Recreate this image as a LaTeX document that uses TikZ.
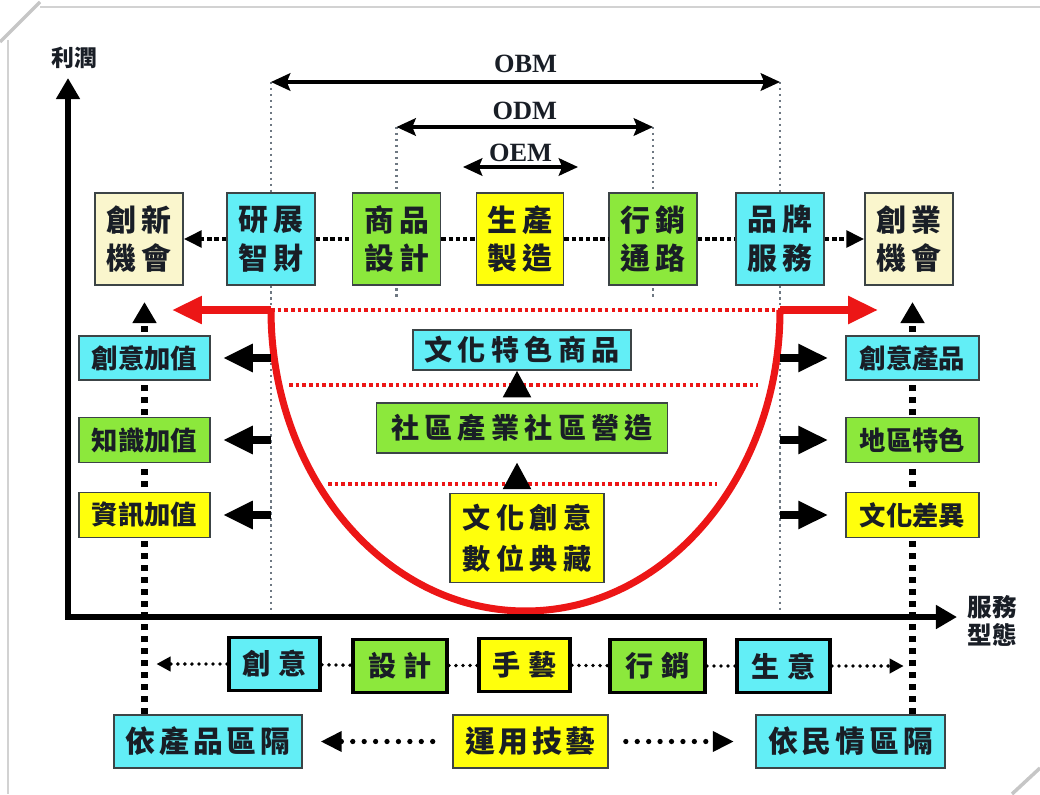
\documentclass[tikz,border=0pt]{standalone}
\usepackage{fontspec}
\setmainfont{Liberation Serif}
\newfontfamily\cjk{Noto Sans CJK TC}
\usetikzlibrary{arrows.meta,backgrounds}
\definecolor{cyanB}{RGB}{98,238,246}
\definecolor{greenB}{RGB}{140,232,60}
\definecolor{yellowB}{RGB}{255,255,12}
\definecolor{creamB}{RGB}{250,246,205}
\definecolor{redB}{RGB}{236,22,22}
\definecolor{boxline}{RGB}{60,68,70}
\definecolor{txt}{RGB}{25,30,38}
\definecolor{vgray}{RGB}{110,120,130}
\newcommand{\gp}{\hspace{3pt}}
\begin{document}
\begin{tikzpicture}[x=0.02cm, y=-0.02cm,
  sz/.style 2 args={minimum width={#1*0.02cm}, minimum height={#2*0.02cm}},
  box/.style={draw=boxline, line width=1.1pt, inner sep=0pt, align=center, text=txt},
  bbox/.style={box, draw=black, line width=2.2pt},
  topf/.style={font=\cjk\bfseries\fontsize{17pt}{22pt}\selectfont},
  midf/.style={font=\cjk\bfseries\fontsize{16pt}{23pt}\selectfont},
  sidef/.style={font=\cjk\bfseries\fontsize{15pt}{18pt}\selectfont},
  lowf/.style={font=\cjk\bfseries\fontsize{17pt}{20pt}\selectfont},
  modarrow/.style={line width=1.8pt, {Stealth[length=11pt,width=10pt,inset=2pt]}-{Stealth[length=11pt,width=10pt,inset=2pt]}},
  vdot/.style={vgray, line width=1.4pt, dash pattern=on 1.4pt off 2pt},
  rowdot/.style={black, line width=1.8pt, dash pattern=on 2.5pt off 1.6pt},
  rowtip/.style={-{Triangle[length=10pt,width=9.5pt]}},
  reddot/.style={redB, line width=2pt, dash pattern=on 2pt off 1.8pt},
  redarrow/.style={redB, line width=4pt, -{Triangle[length=17pt,width=15pt]}},
  bigarrow/.style={black, line width=5pt, -{Triangle[length=17pt,width=15pt]}},
  thickdot/.style={black, line width=3.6pt, dash pattern=on 3.4pt off 3.4pt, -{Triangle[length=12pt,width=13pt]}},
  lowdot/.style={black, line width=2.2pt, dash pattern=on 0pt off 4pt, line cap=round},
  lowdotB/.style={black, line width=3pt, dash pattern=on 0pt off 6.5pt, line cap=round},
  uptri/.style={black, line width=1pt, -{Triangle[length=15pt,width=16pt]}}
]
\useasboundingbox (0,0) rectangle (1040,794);
% page frame decoration
\draw[gray!35, line width=1pt] (40,7) -- (1040,7);
\draw[gray!35, line width=1pt] (8,40) -- (8,794);
\draw[gray!45, line width=2pt] (0,42) -- (40,2);
\draw[gray!45, line width=2pt] (1012,794) -- (1040,768);

% top row
\node[box, fill=creamB, topf, sz={88}{92}] (inn) at (139,239) {創\gp 新\\機\gp 會};
\node[box, fill=cyanB, topf, sz={88}{92}] (rd) at (271,239) {研\gp 展\\智\gp 財};
\node[box, fill=greenB, topf, sz={88}{92}] (pd) at (396.5,239) {商\gp 品\\設\gp 計};
\node[box, fill=yellowB, topf, sz={87}{92}] (mf) at (520,239) {生\gp 產\\製\gp 造};
\node[box, fill=greenB, topf, sz={88}{92}] (mk) at (653,239) {行\gp 銷\\通\gp 路};
\node[box, fill=cyanB, topf, sz={88}{92}] (br) at (780,239) {品\gp 牌\\服\gp 務};
\node[box, fill=creamB, topf, sz={88}{92}] (biz) at (909,239) {創\gp 業\\機\gp 會};

% center column
\node[box, fill=cyanB, midf, sz={218}{40}] (cp) at (522,350) {文\gp 化\gp 特\gp 色\gp 商\gp 品};
\node[box, fill=greenB, midf, sz={291}{50}] (ci) at (522,428) {社\gp 區\gp 產\gp 業\gp 社\gp 區\gp 營\gp 造};
\node[box, fill=yellowB, midf, sz={154}{89}] (dc) at (527,538) {文\gp 化\gp 創\gp 意\\數\gp 位\gp 典\gp 藏};

% side columns
\node[box, fill=cyanB, sidef, sz={131}{44}] (lv1) at (144.5,358) {創意加值};
\node[box, fill=greenB, sidef, sz={131}{45}] (lv2) at (144.5,440) {知識加值};
\node[box, fill=yellowB, sidef, sz={131}{45}] (lv3) at (144.5,515) {資訊加值};
\node[box, fill=cyanB, sidef, sz={133}{44}] (rv1) at (912.5,358) {創意產品};
\node[box, fill=greenB, sidef, sz={133}{45}] (rv2) at (912.5,440) {地區特色};
\node[box, fill=yellowB, sidef, sz={133}{45}] (rv3) at (912.5,515) {文化差異};

% bottom row
\node[bbox, fill=cyanB, midf, sz={91}{53}] (b1) at (274.5,664) {創\hspace{4pt}意};
\node[bbox, fill=greenB, midf, sz={94}{53}] (b2) at (400,666) {設\hspace{4pt}計};
\node[bbox, fill=yellowB, midf, sz={91}{53}] (b3) at (524.5,665) {手\hspace{4pt}藝};
\node[bbox, fill=greenB, midf, sz={95}{53}] (b4) at (657.5,666) {行\hspace{4pt}銷};
\node[bbox, fill=cyanB, midf, sz={93}{53}] (b5) at (783.5,666) {生\hspace{4pt}意};

% last row
\node[box, fill=cyanB, lowf, sz={188}{53}] (pl) at (208,741.5) {依\hspace{2.2pt}產\hspace{2.2pt}品\hspace{2.2pt}區\hspace{2.2pt}隔};
\node[box, fill=yellowB, lowf, sz={155}{53}] (ut) at (530.5,741.5) {運\hspace{2pt}用\hspace{2pt}技\hspace{2pt}藝};
\node[box, fill=cyanB, lowf, sz={189}{53}] (pm) at (850.5,741.5) {依\hspace{2.2pt}民\hspace{2.2pt}情\hspace{2.2pt}區\hspace{2.2pt}隔};

% axis labels
\node[font=\cjk\bfseries\fontsize{13pt}{15pt}\selectfont, text=txt] (profit) at (74,58) {利潤};
\node[font=\cjk\bfseries\fontsize{14pt}{16pt}\selectfont, text=txt, align=center] (svc) at (992,621) {服務\\型態};

% coordinates
\coordinate (obmL) at (rd.center |- 0,82);
\coordinate (obmR) at (br.center |- 0,82);
\coordinate (odmL) at (pd.center |- 0,127);
\coordinate (odmR) at (mk.center |- 0,127);
\coordinate (oemL) at (463,167);
\coordinate (oemR) at (578,167);
\coordinate (rdB) at (rd.center |- 0,617);
\coordinate (brB) at (br.center |- 0,617);
\coordinate (pdB) at (pd.center |- 0,297);
\coordinate (mkB) at (mk.center |- 0,297);
\coordinate (rL) at (rd.center |- 0,310);
\coordinate (rR) at (br.center |- 0,310);
\coordinate (redLtip) at (172,310);
\coordinate (redRtip) at (878,310);
\coordinate (uBot) at (525.5,611);
\coordinate (d2L) at (289,385);
\coordinate (d2R) at (758,385);
\coordinate (d3L) at (328,484);
\coordinate (d3R) at (717,484);
\coordinate (ytip) at (68,78);
\coordinate (xtip) at (957,617);
\coordinate (lvtop) at (144.5,302);
\coordinate (rvtop) at (912.5,302);

\begin{pgfonlayer}{background}
  % gray dotted guide lines
  \draw[vdot] (obmL) -- (rdB);
  \draw[vdot] (obmR) -- (brB);
  \draw[vdot] (odmL) -- (pdB);
  \draw[vdot] (odmR) -- (mkB);
  % thick dotted side lines
  \draw[thickdot] (lv1.center |- pl.north) -- (lvtop);
  \draw[thickdot] (rv1.center |- pm.north) -- (rvtop);
  % red dotted lines
  \draw[reddot] (rL) -- (rR);
  \draw[reddot] (d2L) -- (d2R);
  \draw[reddot] (d3L) -- (d3R);
\end{pgfonlayer}

% model arrows
\draw[modarrow] (obmL) -- (obmR) node[midway, above=1pt, font=\bfseries\fontsize{15pt}{17pt}\selectfont, text=txt] (obm) {OBM};
\draw[modarrow] (odmL) -- (odmR) node[midway, above=0pt, font=\bfseries\fontsize{15pt}{17pt}\selectfont, text=txt] (odm) {ODM};
\draw[modarrow] (oemL) -- (oemR) node[midway, above=-1.5pt, font=\bfseries\fontsize{15pt}{17pt}\selectfont, text=txt] (oem) {OEM};

% top row dotted chain
\draw[rowdot, rowtip] (rd) -- (inn);
\draw[rowdot] (rd) -- (pd);
\draw[rowdot] (pd) -- (mf);
\draw[rowdot] (mf) -- (mk);
\draw[rowdot] (mk) -- (br);
\draw[rowdot, rowtip] (br) -- (biz);

% red U curve and arrows
\draw[redB, line width=4pt] (rL) .. controls (271,476) and (385,611) .. (uBot)
   .. controls (666,611) and (780,476) .. (rR);
\draw[redarrow] (rL) -- (redLtip);
\draw[redarrow] (rR) -- (redRtip);

% center triangles
\draw[uptri, shorten <=6pt] (ci.north -| 517,0) -- (cp.south -| 517,0);
\draw[uptri, shorten <=4pt, shorten >=5pt] (dc.north -| 517,0) -- (ci.south -| 517,0);

% big side arrows
\draw[bigarrow, shorten >=6.8pt] (rd.center |- lv1.east) -- (lv1.east);
\draw[bigarrow, shorten >=6.8pt] (rd.center |- lv2.east) -- (lv2.east);
\draw[bigarrow, shorten >=6.8pt] (rd.center |- lv3.east) -- (lv3.east);
\draw[bigarrow, shorten >=9.6pt] (br.center |- rv1.west) -- (rv1.west);
\draw[bigarrow, shorten >=9.6pt] (br.center |- rv2.west) -- (rv2.west);
\draw[bigarrow, shorten >=9.6pt] (br.center |- rv3.west) -- (rv3.west);

% axes
\draw[black, line width=3pt, {Triangle[length=12pt,width=13pt]}-{Triangle[length=12pt,width=13pt]}] (ytip) |- (xtip);

% bottom row dotted chain
\draw[lowdot, -{Triangle[length=8pt,width=8pt]}, shorten >=6.8pt] (b1.west) -- (lv1.center |- b1.west);
\draw[lowdot] (b1) -- (b2);
\draw[lowdot] (b2) -- (b3);
\draw[lowdot] (b3) -- (b4);
\draw[lowdot] (b4) -- (b5);
\draw[lowdot, -{Triangle[length=8pt,width=8pt]}, shorten >=5pt] (b5.east) -- (rv1.center |- b5.east);

% last row dotted arrows
\draw[lowdotB, -{Triangle[length=12pt,width=11pt]}, shorten <=11pt, shorten >=10pt] (ut.west) -- (pl.east);
\draw[lowdotB, -{Triangle[length=12pt,width=11pt]}, shorten <=9.6pt, shorten >=12pt] (ut.east) -- (pm.west);
\end{tikzpicture}
\end{document}
